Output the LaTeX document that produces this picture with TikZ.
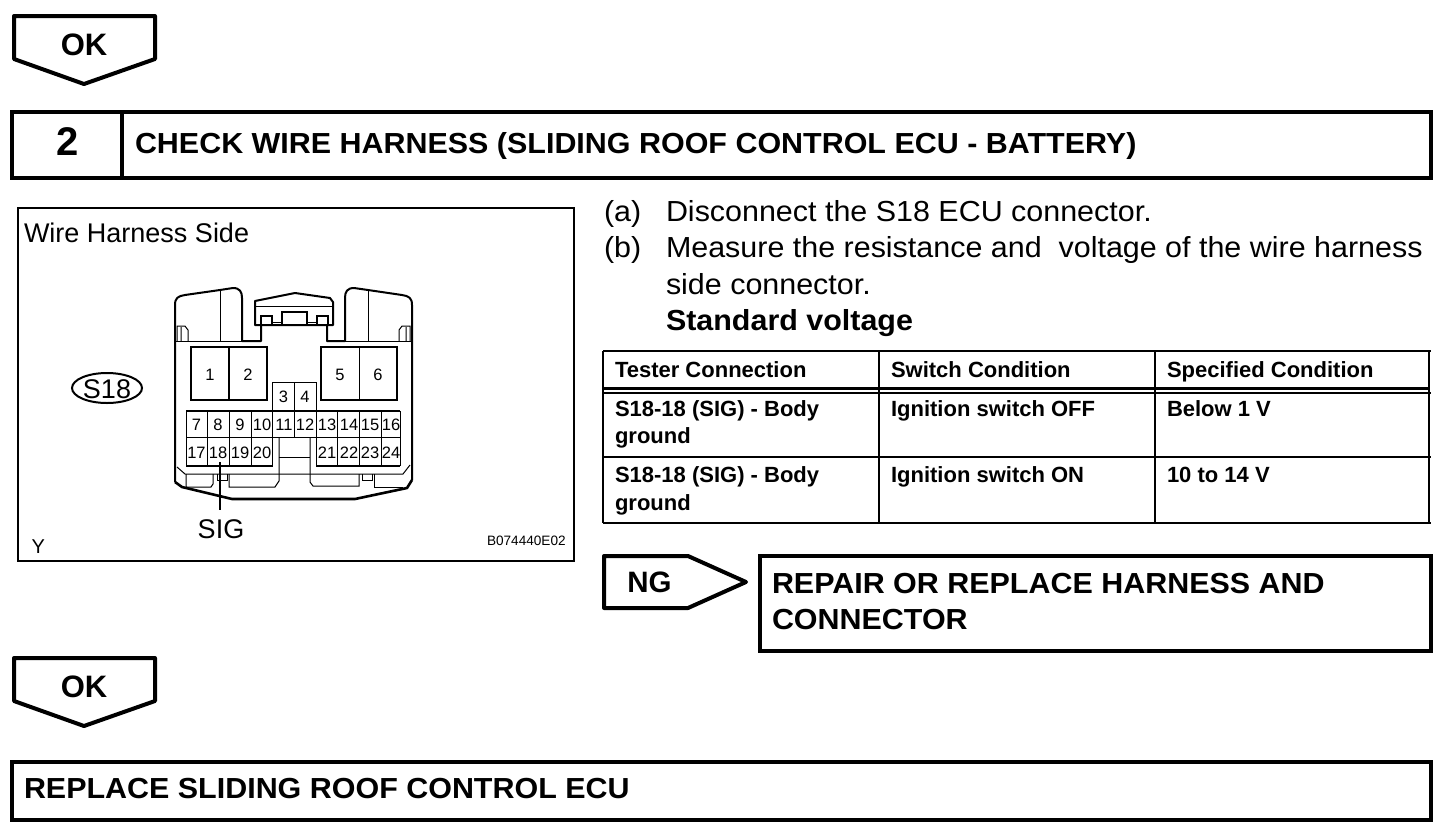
\documentclass[tikz,border=0pt]{standalone}
\usepackage{fontspec}
\setmainfont{Liberation Sans}
\newfontfamily\widefont{Liberation Sans}[FakeStretch=1.05]
\newcommand{\fs}[1]{\fontsize{#1pt}{#1pt}\selectfont}
\tikzset{
 heavy/.style={draw=black,line width=4pt,miter limit=10},
 medium/.style={draw=black,line width=2pt},
 thinline/.style={draw=black,line width=1pt},
 housing/.style={draw=black,line width=2pt,line join=round},
 lbl/.style={anchor=base west,inner sep=0pt,outer sep=0pt,text=black},
 midl/.style={anchor=base,inner sep=0pt,outer sep=0pt,text=black},
 headt/.style={lbl,font=\widefont\fs{29}\bfseries},
 bodyt/.style={lbl,font=\widefont\fs{29}},
 tbl/.style={lbl,font=\fs{22}\bfseries},
 pinno/.style={midl,font=\fs{16.5}},
}
\begin{document}
\begin{tikzpicture}[x=1pt,y=-1pt]
\useasboundingbox (0,0) rectangle (1456,836);
% OK flags
\draw[heavy,line join=round] (14,16)--(155,16)--(155,59)--(84,84)--(14,59)--cycle;
\node[midl,font=\fs{31}\bfseries] (ok1) at (84,55) {OK};
\draw[heavy,line join=round] (14,658)--(155,658)--(155,701)--(84,726)--(14,701)--cycle;
\node[midl,font=\fs{31}\bfseries] (ok2) at (84,697) {OK};
% header
\draw[heavy] (12,112) rectangle (1431,178);
\draw[heavy] (122,112)--(122,178);
\node[midl,font=\fs{40}\bfseries] (num) at (67.5,155) {2};
\node[headt] (title) at (135,153) {CHECK WIRE HARNESS (SLIDING ROOF CONTROL ECU - BATTERY)};
% picture frame
\draw[medium] (18,208) rectangle (574,561);
\node[lbl,font=\fs{27}] (whs) at (24,242) {Wire Harness Side};
\node[lbl,font=\fs{20}] (yy) at (31.5,553) {Y};
\node[lbl,font=\fs{13.6}] (code) at (487,545) {B074440E02};
\draw[medium] (107,388) ellipse [x radius=35,y radius=15];
\node[midl,font=\fs{27}] (s18) at (107,398) {S18};
% housing
\draw[housing] (175,482)--(175,305) .. controls (175,298) and (178,296) .. (185,295)--(220,290)--(233,288) .. controls (240,288) and (242,292) .. (242,298)--(242,341)--(261,341)--(261,325);
\draw[housing] (327,325)--(327,341)--(345,341)--(345,298) .. controls (345,292) and (347,288) .. (354,288)--(368,290)--(402,295) .. controls (409,296) and (412,298) .. (412,305)--(412,480);
\draw[draw=black,line width=2.6pt,line join=round] (175,482)--(182,487)--(232,499)--(355,499)--(407,488)--(412,480);
\draw[housing] (255,325)--(255,301)--(295,293)--(330,298)--(333,302)--(333,325)--cycle;
\draw[thinline] (255,306)--(333,306);
\draw[medium] (261,316) rectangle (272,325) (317,316) rectangle (328,325) (282,312) rectangle (307,325);
\draw[thinline] (272,322)--(282,322) (307,322)--(317,322);
\draw[thinline] (175,341)--(242,341) (345,341)--(412,341);
\draw[thinline] (220,290)--(220,341) (368,290)--(368,341);
\draw[thinline] (177,341)--(177,326)--(185,326)--(188,330)--(188,341) (181,327)--(181,341);
\draw[thinline] (410,341)--(410,326)--(402,326)--(399,330)--(399,341) (406,327)--(406,341);
% big cavities
\draw[medium] (191,347) rectangle (267,400);
\draw[medium] (229,347)--(229,400);
\draw[medium] (321,347) rectangle (397,400);
\draw[thinline] (359,347)--(359,400);
\draw[thinline] (272,382) rectangle (316,411);
\draw[thinline] (294,382)--(294,437);
\foreach \n/\x/\y in {1/210/380,2/248/380,5/340/380,6/378/380,3/283.5/402,4/305/402}{
 \node[pinno] (p\n) at (\x,\y) {\n};
}
% small cavities
\draw[medium] (186,411)--(400,411);
\draw[medium] (186,466)--(273,466) (316,466)--(400,466);
\draw[thinline] (186,437)--(400,437);
\foreach \x in {186,207.3,229,251,272.7}{\draw[thinline] (\x,411)--(\x,466);}
\foreach \x in {316,337.7,359.3,381,400}{\draw[thinline] (\x,411)--(\x,466);}
\draw[thinline] (294.3,411)--(294.3,437);
\foreach \n/\x/\y in {7/196.5/430,8/218/430,9/240/430,10/262/430,11/284/430,12/305/430,13/327/430,14/349/430,15/370/430,16/391/430,17/196.5/458.5,18/218/458.5,19/240/458.5,20/262/458.5,21/327/458.5,22/349/458.5,23/370/458.5,24/391/458.5}{
 \node[pinno] (p\n) at (\x,\y) {\n};
}
% lower details
\draw[thinline] (177,467)--(185,474)--(403,474)--(410,465);
\draw[thinline] (279,437)--(279,481)--(275,487)--(229,487)--(229,474);
\draw[thinline] (310,437)--(310,482)--(313,486)--(359,486)--(359,474);
\draw[thinline] (279,457)--(310,457);
\draw[thinline] (186,474)--(186,487)--(211,487)--(213,484)--(213,474);
\draw[thinline] (217,474)--(217,480)--(227,480)--(227,474);
\draw[thinline] (362,474)--(362,480)--(372,480)--(372,474);
\draw[thinline] (374,474)--(374,487)--(403,487);
% SIG
\coordinate (sigtop) at (220,462);
\node[midl,font=\fs{27}] (sig) at (221,538) {SIG};
\draw[medium] (sigtop)--(220,510);
% instructions
\node[bodyt] (a) at (604,221) {(a)};
\node[bodyt] (at) at (666,221) {Disconnect the S18 ECU connector.};
\node[bodyt] (b) at (604,257) {(b)};
\node[bodyt] (bt) at (666,257) {Measure the resistance and\ \ voltage of the wire harness};
\node[bodyt] (bt2) at (666,294) {side connector.};
\node[headt] (std) at (666,330) {Standard voltage};
% table
\draw[medium] (603,351)--(1431,351) (603,523)--(1431,523) (603,351)--(603,523) (879,351)--(879,523) (1155,351)--(1155,523) (1429,351)--(1429,523);
\draw[draw=black,line width=3pt] (603,388)--(1429,388);
\draw[medium] (603,393)--(1431,393) (603,457)--(1431,457);
\node[tbl] at (615,377) (h1) {Tester Connection};
\node[tbl] at (891,377) (h2) {Switch Condition};
\node[tbl] at (1167,377) (h3) {Specified Condition};
\node[tbl] at (615,416) (r1a) {S18-18 (SIG) - Body};
\node[tbl] at (615,443) (r1b) {ground};
\node[tbl] at (891,416) (r1c) {Ignition switch OFF};
\node[tbl] at (1167,416) (r1d) {Below 1 V};
\node[tbl] at (615,482) (r2a) {S18-18 (SIG) - Body};
\node[tbl] at (615,510) (r2b) {ground};
\node[tbl] at (891,482) (r2c) {Ignition switch ON};
\node[tbl] at (1167,482) (r2d) {10 to 14 V};
% NG
\draw[heavy,line join=round] (604,556)--(688,556)--(746,582)--(688,608)--(604,608)--cycle;
\node[midl,font=\fs{29.5}\bfseries] (ng) at (649.5,592) {NG};
\draw[heavy] (760,556) rectangle (1431,651);
\node[headt] (rep) at (772,593) {REPAIR OR REPLACE HARNESS AND};
\node[headt] (con) at (772,629) {CONNECTOR};
% final
\draw[heavy] (12,762) rectangle (1431,820);
\node[headt] (fin) at (24,798) {REPLACE SLIDING ROOF CONTROL ECU};
\end{tikzpicture}
\end{document}
